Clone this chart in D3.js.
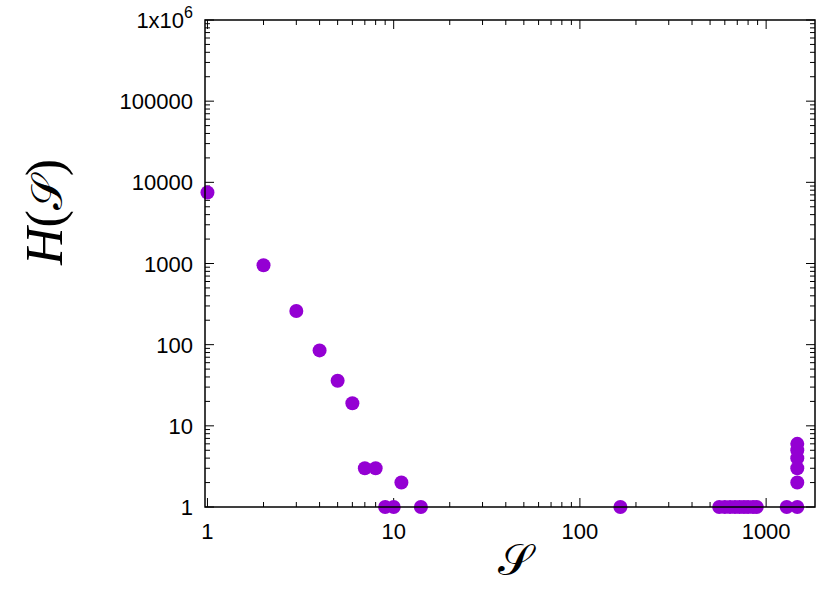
<!DOCTYPE html><html><head><meta charset="utf-8"><script src="https://cdn.jsdelivr.net/npm/d3@7"></script>
<style>body{margin:0;background:#fff}</style></head><body><svg id="c" width="822" height="591"></svg>
<script>
const xs=[1,2,3,4,5,6,7,8,9,10,11,14,165,560,600,640,680,720,760,800,850,890,1290,1470,1470,1470,1470,1470,1470];
const ys=[7500,950,260,85,36,19,3,3,1,1,2,1,1,1,1,1,1,1,1,1,1,1,1,1,2,3,4,5,6];
const xTicks=[1,10,100,1000], xLabels=["1","10","100","1000"];
const yTicks=[1,10,100,1000,10000,100000,1000000];
const yLabels=["1","10","100","1000","10000","100000","1x10^6"];
const svg=d3.select("#c");
const L=205,R=815,T=20,B=507;
const x=d3.scaleLog().domain([0.97,1830]).range([L,R]);
const y=d3.scaleLog().domain([1,1e6]).range([B,T]);
const g=svg.append("g");
function minors(dom){const a=[];for(let d=1;d<=1e6;d*=10)for(let k=2;k<10;k++){const v=d*k;if(v>dom[0]&&v<dom[1])a.push(v);}return a;}
const xm=minors(x.domain()), ym=minors([1,1e6]);
const st="#000";
xTicks.forEach(v=>{g.append("line").attr("x1",x(v)).attr("x2",x(v)).attr("y1",B).attr("y2",B-9).attr("stroke",st);g.append("line").attr("x1",x(v)).attr("x2",x(v)).attr("y1",T).attr("y2",T+9).attr("stroke",st);});
xm.forEach(v=>{g.append("line").attr("x1",x(v)).attr("x2",x(v)).attr("y1",B).attr("y2",B-5).attr("stroke",st);g.append("line").attr("x1",x(v)).attr("x2",x(v)).attr("y1",T).attr("y2",T+5).attr("stroke",st);});
yTicks.forEach(v=>{g.append("line").attr("x1",L).attr("x2",L+9).attr("y1",y(v)).attr("y2",y(v)).attr("stroke",st);g.append("line").attr("x1",R).attr("x2",R-9).attr("y1",y(v)).attr("y2",y(v)).attr("stroke",st);});
ym.forEach(v=>{g.append("line").attr("x1",L).attr("x2",L+5).attr("y1",y(v)).attr("y2",y(v)).attr("stroke",st);g.append("line").attr("x1",R).attr("x2",R-5).attr("y1",y(v)).attr("y2",y(v)).attr("stroke",st);});
const ff="Liberation Sans, Arial, sans-serif";
xTicks.forEach((v,i)=>g.append("text").attr("x",x(v)).attr("y",B+32).attr("text-anchor","middle").attr("font-family",ff).attr("font-size",22).text(xLabels[i]));
yTicks.forEach((v,i)=>{const t=g.append("text").attr("x",L-12).attr("y",y(v)+8).attr("text-anchor","end").attr("font-family",ff).attr("font-size",22);
 if(yLabels[i].includes("^")){const [a,b]=yLabels[i].split("^");t.text(a);t.append("tspan").attr("dy",-10).attr("font-size",16).text(b);}else t.text(yLabels[i]);});
svg.append("g").selectAll("circle").data(xs.map((d,i)=>[d,ys[i]])).join("circle").attr("cx",d=>x(d[0])).attr("cy",d=>y(d[1])).attr("r",7).attr("fill","#9400d3");
svg.append("rect").attr("x",L).attr("y",T).attr("width",R-L).attr("height",B-T).attr("fill","none").attr("stroke","#000").attr("stroke-width",1.5);
svg.append("text").attr("x",515).attr("y",575).attr("text-anchor","middle").attr("font-family","DejaVu Serif, serif").attr("font-size",44).text("𝒮");
const yl=svg.append("text").attr("transform","translate(62,212) rotate(-90)").attr("text-anchor","middle").attr("font-family","Liberation Serif, serif").attr("font-size",52);
yl.append("tspan").attr("font-style","italic").text("H");yl.append("tspan").text("(");yl.append("tspan").attr("font-family","DejaVu Serif, serif").attr("font-size",44).text("𝒮");yl.append("tspan").text(")");
</script></body></html>
